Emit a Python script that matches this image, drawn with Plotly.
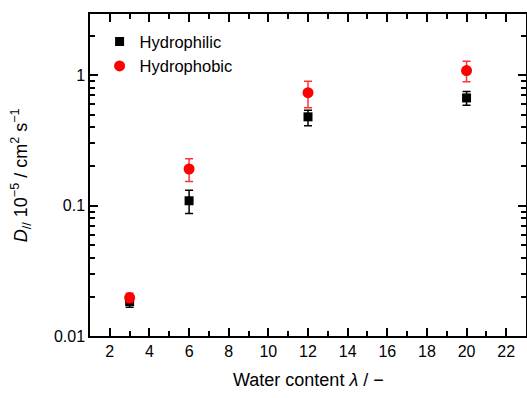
import plotly.graph_objects as go

water = [3, 6, 12, 20]
hydrophilic = [0.0184, 0.109, 0.48, 0.67]
hydrophilic_up = [0.0016, 0.022, 0.06, 0.08]
hydrophilic_dn = [0.0018, 0.022, 0.07, 0.08]
hydrophobic = [0.0197, 0.191, 0.736, 1.087]
hydrophobic_up = [0.0016, 0.038, 0.164, 0.193]
hydrophobic_dn = [0.0017, 0.038, 0.172, 0.197]

FONT = "Liberation Sans, Arial, sans-serif"

fig = go.Figure()
fig.add_trace(go.Scatter(
    x=water, y=hydrophilic, mode="markers", name="Hydrophilic",
    marker=dict(symbol="square", size=9, color="black"),
    error_y=dict(type="data", symmetric=False, array=hydrophilic_up,
                 arrayminus=hydrophilic_dn, color="black", thickness=1.5, width=4),
))
fig.add_trace(go.Scatter(
    x=water, y=hydrophobic, mode="markers", name="Hydrophobic",
    marker=dict(symbol="circle", size=11, color="red"),
    error_y=dict(type="data", symmetric=False, array=hydrophobic_up,
                 arrayminus=hydrophobic_dn, color="rgba(255,0,0,0.8)", thickness=1.5, width=4),
))

axis_common = dict(
    showline=True, linecolor="black", linewidth=1.5, mirror="ticks",
    ticks="inside", tickcolor="black", ticklen=8, tickwidth=1.5,
    showgrid=False, zeroline=False, automargin=False,
    tickfont=dict(family=FONT, size=16, color="black"),
)

fig.update_layout(
    width=527, height=398,
    margin=dict(l=90, r=1, t=14, b=62),
    paper_bgcolor="white", plot_bgcolor="white",
    font=dict(family=FONT, color="black"),
    showlegend=True,
    legend=dict(x=0.022, y=0.968, xanchor="left", yanchor="top",
                font=dict(family=FONT, size=16.5, color="black"),
                bgcolor="rgba(0,0,0,0)", itemsizing="trace",
                tracegroupgap=0),
    xaxis=dict(
        range=[1, 23], tickmode="array", tickvals=list(range(2, 23, 2)),
        minor=dict(ticks="inside", tickvals=list(range(1, 24, 2)), ticklen=5,
                   tickcolor="black", tickwidth=1.5),
        **axis_common,
    ),
    yaxis=dict(
        type="log", range=[-2, 0.47],
        tickmode="array", tickvals=[0.01, 0.1, 1], ticktext=["0.01", "0.1", "1"],
        minor=dict(ticks="inside", ticklen=5, tickcolor="black", tickwidth=1.5,
                   tickvals=[k * 10 ** e for e in (-2, -1, 0) for k in range(2, 10)]),
        **axis_common,
    ),
    annotations=[
        dict(text="Water content <i>λ</i> / −", xref="paper", yref="paper",
             x=0.5, y=-0.137, xanchor="center", yanchor="middle", showarrow=False,
             font=dict(family=FONT, size=18, color="black")),
        dict(text="<i>D</i><sub>//</sub> 10<sup>−5</sup> / cm<sup>2</sup> s<sup>−1</sup>",
             xref="paper", yref="paper", x=-0.16, y=0.5, xanchor="center",
             yanchor="middle", textangle=-90, showarrow=False,
             font=dict(family=FONT, size=18, color="black")),
    ],
)

fig.write_html(
    "out.html",
    config={"displayModeBar": False},
    post_script="document.body.style.margin='0';document.body.style.overflow='hidden';",
)
